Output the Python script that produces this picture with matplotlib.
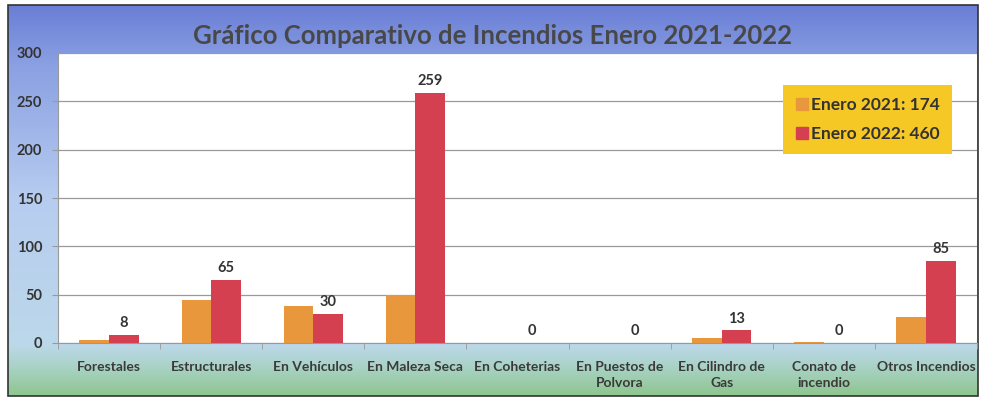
import matplotlib
matplotlib.use("Agg")
import matplotlib.pyplot as plt
import numpy as np
from matplotlib.colors import LinearSegmentedColormap
from matplotlib.patches import Rectangle
from matplotlib.lines import Line2D

categories = ["Forestales", "Estructurales", "En Vehículos", "En Maleza Seca",
              "En Coheterias", "En Puestos de\nPolvora", "En Cilindro de\nGas",
              "Conato de\nincendio", "Otros Incendios"]
enero_2021 = [3, 45, 38, 50, 0, 0, 5, 1, 27]
enero_2022 = [8, 65, 30, 259, 0, 0, 13, 0, 85]
legend_labels = ["Enero 2021: 174", "Enero 2022: 460"]
title = "Gráfico Comparativo de Incendios Enero 2021-2022"

W, H = 987, 403
fig = plt.figure(figsize=(W / 100, H / 100), dpi=100)
plt.rcParams['font.family'] = ['Lato', 'DejaVu Sans']

def fx(px): return px / W
def fy(py): return 1 - py / H

# background gradient
bg = fig.add_axes([0, 0, 1, 1])
bg.set_xlim(0, W); bg.set_ylim(H, 0); bg.axis('off')
cmap = LinearSegmentedColormap.from_list("bgc", [
    (0.0, "#6a7ed6"), (0.15, "#8aa0e2"), (0.5, "#b7cdf0"), (0.87, "#bcd8ea"),
    (0.93, "#a8d2c4"), (1.0, "#8ec68e")])
grad = np.linspace(0, 1, 256).reshape(-1, 1)
bg.imshow(grad, cmap=cmap, aspect='auto', extent=(8, 978, 396, 5), zorder=0)
bg.add_patch(Rectangle((8, 5), 970, 391, fill=False, edgecolor="#333333", lw=1.2, zorder=2))

ax = fig.add_axes([fx(58), fy(343), fx(977) - fx(58), fy(53) - fy(343)])
ax.set_facecolor("white")
x = np.arange(len(categories))
w = 0.29
c21, c22 = "#e8973d", "#d4404f"
ax.bar(x - w / 2, enero_2021, w, color=c21, zorder=3)
ax.bar(x + w / 2, enero_2022, w, color=c22, zorder=3)
for xi, v in zip(x, enero_2022):
    ax.text(xi + w / 2, v + 5, str(v), ha='center', va='bottom', fontsize=10.5,
            fontweight='bold', color="#333333")
ax.set_xlim(-0.5, len(categories) - 0.5)
ax.set_ylim(0, 300)
ax.set_yticks(range(0, 301, 50))
ax.yaxis.grid(True, color="#9a9a9a", lw=0.9, zorder=0)
ax.set_axisbelow(True)
ax.set_xticks(x)
ax.set_xticklabels(categories, fontsize=10, fontweight='bold', color="#3a3a3a", linespacing=1.4)
ax.set_xticks(np.arange(-0.5, len(categories), 1), minor=True)
ax.tick_params(axis='x', which='major', length=0, pad=13)
ax.tick_params(axis='x', which='minor', length=4, color="#999999")
ax.tick_params(axis='y', length=4.5, color="#999999", labelsize=10.5, labelcolor="#333333", pad=7)
for t in ax.get_yticklabels():
    t.set_fontweight('bold')
for s in ['top', 'right']:
    ax.spines[s].set_visible(False)
ax.spines['left'].set_color("#999999")
ax.spines['bottom'].set_color("#999999")

handles = [Line2D([], [], marker='s', ls='none', color=c, markersize=8) for c in (c21, c22)]
leg = fig.legend(handles, legend_labels, loc='upper left', bbox_to_anchor=(fx(783), fy(85)),
                 frameon=True, facecolor="#f6c825", edgecolor="none", framealpha=1,
                 fancybox=False, prop={'weight': 'bold', 'size': 12.5}, labelcolor="#333333",
                 handletextpad=0.1, handlelength=0.8, borderpad=0.7, labelspacing=0.75,
                 borderaxespad=0)

fig.text(fx(493), fy(36), title, ha='center', va='center', fontsize=18.5,
         fontweight='bold', color="#484848")

fig.savefig("out.png", dpi=100)
